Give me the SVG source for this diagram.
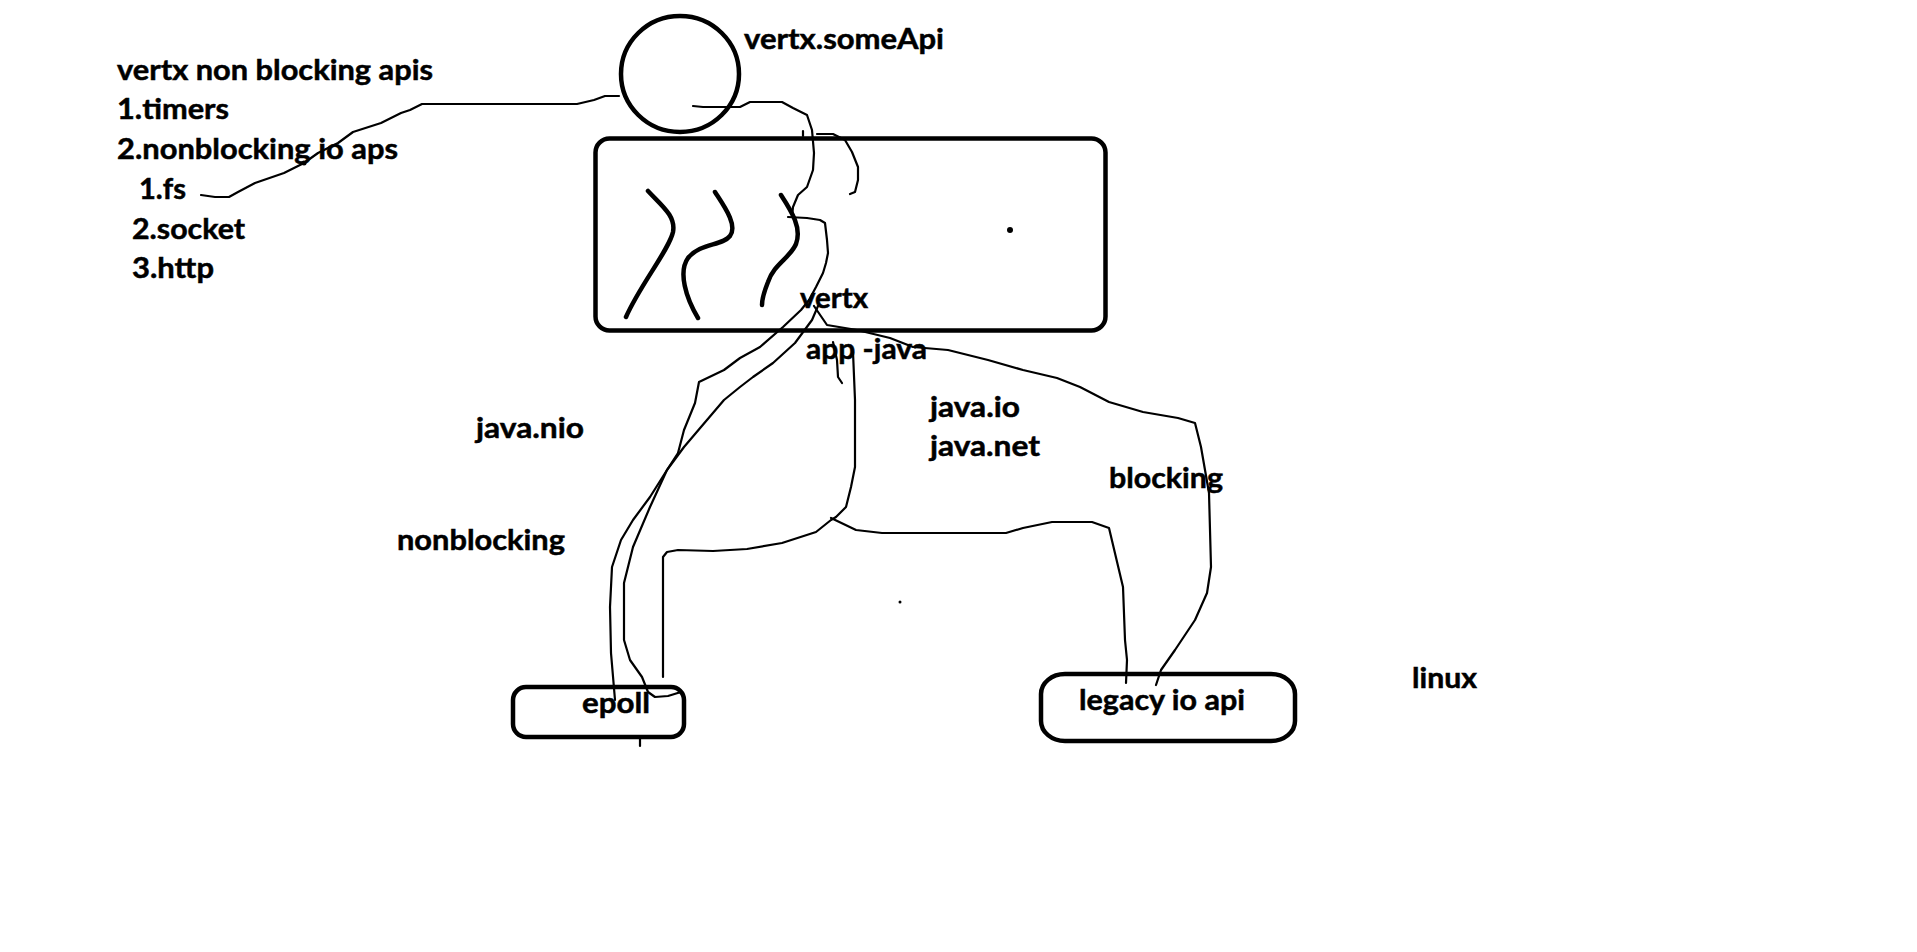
<svg xmlns="http://www.w3.org/2000/svg" width="1917" height="952" viewBox="0 0 1917 952">
<style>
.t{font-family:Lato,"Liberation Sans",sans-serif;font-weight:bold;font-size:29px;fill:#000;stroke:#000;stroke-width:0.5}
.thick{fill:none;stroke:#000;stroke-width:4.5;stroke-linecap:round;stroke-linejoin:round}
.thin{fill:none;stroke:#000;stroke-width:2.2;stroke-linecap:round;stroke-linejoin:round}
</style>
<rect width="1917" height="952" fill="#fff"/>
<g id="labels">
<text class="t" x="117" y="80" textLength="316" lengthAdjust="spacingAndGlyphs">vertx non blocking apis</text>
<text class="t" x="117" y="119" textLength="112" lengthAdjust="spacingAndGlyphs">1.timers</text>
<text class="t" x="117" y="159" textLength="281" lengthAdjust="spacingAndGlyphs">2.nonblocking io aps</text>
<text class="t" x="139" y="199" textLength="47" lengthAdjust="spacingAndGlyphs">1.fs</text>
<text class="t" x="132" y="239" textLength="113" lengthAdjust="spacingAndGlyphs">2.socket</text>
<text class="t" x="132" y="278" textLength="82" lengthAdjust="spacingAndGlyphs">3.http</text>
<text class="t" x="476" y="438" textLength="108" lengthAdjust="spacingAndGlyphs">java.nio</text>
<text class="t" x="397" y="550" textLength="168" lengthAdjust="spacingAndGlyphs">nonblocking</text>
<text class="t" x="930" y="417" textLength="90" lengthAdjust="spacingAndGlyphs">java.io</text>
<text class="t" x="930" y="456" textLength="110" lengthAdjust="spacingAndGlyphs">java.net</text>
<text class="t" x="1109" y="488" textLength="114" lengthAdjust="spacingAndGlyphs">blocking</text>
<text class="t" x="1412" y="688" textLength="65" lengthAdjust="spacingAndGlyphs">linux</text>
</g>
<g id="someApi">
<ellipse class="thick" cx="680" cy="74" rx="59" ry="58"/>
<text class="t" x="744" y="49" textLength="200" lengthAdjust="spacingAndGlyphs">vertx.someApi</text>
</g>
<g id="vertxApp">
<rect class="thick" x="595.5" y="138.5" width="510" height="192" rx="14"/>
<path class="thick" d="M648,191 C662,206 676,216 673,232 C669,250 640,285 626,317"/>
<path class="thick" d="M715,192 C724,206 738,225 730,236 C722,246 700,243 688,258 C678,272 686,298 698,318"/>
<path class="thick" d="M781,195 C792,212 802,228 796,244 C790,258 774,264 768,282 C764,292 762,300 762,305"/>
<circle cx="1010" cy="230" r="3"/>
<text class="t" x="800" y="308" textLength="68" lengthAdjust="spacingAndGlyphs">vertx</text>
<text class="t" x="806" y="359" textLength="121" lengthAdjust="spacingAndGlyphs">app -java</text>
</g>
<g id="epoll">
<rect class="thick" x="513" y="687" width="171" height="50" rx="13"/>
<text class="t" x="582" y="713" textLength="68" lengthAdjust="spacingAndGlyphs">epoll</text>
</g>
<g id="legacy">
<rect class="thick" x="1041" y="674" width="254" height="67" rx="24" ry="20"/>
<text class="t" x="1079" y="710" textLength="166" lengthAdjust="spacingAndGlyphs">legacy io api</text>
</g>
<g id="connectors">
<path class="thin" d="M619,96 L605,96 L594,100 L577,104 L422,104 L410,110 L401,113 L381,123 L353,132 L338,143 L318,153 L304,163 L284,173 L255,183 L238,192 L229,197 L215,197 L201,195"/>
<circle cx="304" cy="163" r="2.5"/>
<path class="thin" d="M693,106 L703,107 L730,107 L740,107 L750,102 L782,102 L793,108 L807,115 L812,130 L814,153 L813,170 L807,187 L798,195 L793,207 L792,217"/>
<path class="thin" d="M803,131 L803,136"/>
<path class="thin" d="M817,134 L833,134 L845,140 L852,152 L858,167 L858,180 L855,192 L850,194"/>
<path class="thin" d="M788,217 L807,218 L820,220 L825,223 L827,240 L828,253 L826,263 L823,273 L816,287 L809,300 L801,310 L783,327 L760,347 L740,358 L724,370 L699,382 L695,403 L684,430 L678,453 L667,470 L650,497 L633,520 L621,540 L612,567 L610,607 L611,653 L615,700"/>
<path class="thin" d="M818,306 L812,320 L795,343 L773,363 L753,377 L740,387 L724,400 L701,427 L684,447 L667,470 L650,507 L633,547 L624,583 L624,640 L630,660 L642,677 L648,692 L655,697 L668,696 L681,692"/>
<path class="thin" d="M814,306 L827,325 L857,330 L890,338 L913,347 L948,350 L988,360 L1023,370 L1057,378 L1080,387 L1109,402 L1143,412 L1178,418 L1195,423 L1201,447 L1209,493 L1211,567 L1207,593 L1195,620 L1175,650 L1161,670 L1156,685"/>
<path class="thin" d="M833,342 L837,360 L838,377 L842,383"/>
<path class="thin" d="M853,352 L855,400 L855,467 L851,487 L846,507 L836,517 L831,520 L816,532 L782,543 L747,549 L713,551 L678,550 L667,552 L663,557 L663,677"/>
<path class="thin" d="M831,518 L856,530 L882,533 L1006,533 L1023,528 L1052,522 L1092,522 L1109,528 L1123,587 L1125,640 L1127,660 L1126,683"/>
<path class="thin" d="M640,739 L640,746"/>
<circle cx="900" cy="602" r="1.5"/>
</g>
</svg>
